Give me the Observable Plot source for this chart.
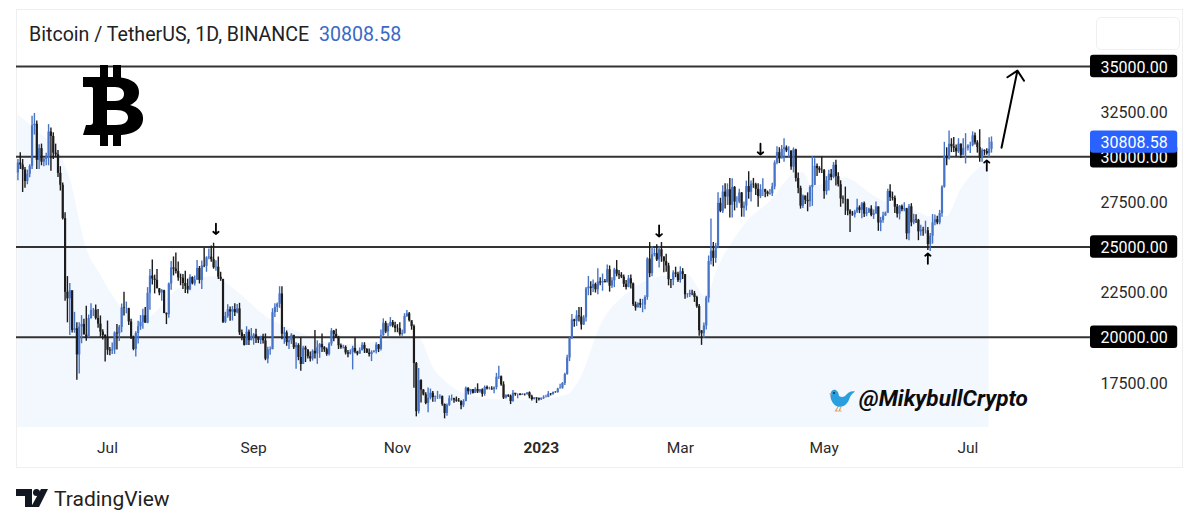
<!DOCTYPE html>
<html><head><meta charset="utf-8">
<script src="https://cdn.jsdelivr.net/npm/d3@7"></script>
<script src="https://cdn.jsdelivr.net/npm/@observablehq/plot@0.6"></script>
<style>
html,body{margin:0;padding:0;background:#fff;width:1200px;height:525px;overflow:hidden;font-family:Roboto,sans-serif}
#wrap{position:relative;width:1200px;height:525px}
#card{position:absolute;left:16px;top:9px;width:1167px;height:459px;border:1px solid #efefef;box-sizing:border-box}
#btn{position:absolute;left:1096px;top:17px;width:84px;height:33px;border:1px solid #f0f0f0;border-radius:5px;box-sizing:border-box}
#chart{position:absolute;left:0;top:0}
#title{position:absolute;left:29px;top:23px;font-size:19.6px;line-height:24px;color:#222;white-space:nowrap}
#title span{color:#3a6ac6;margin-left:5px}
#btc{position:absolute;left:83px;top:65px}
#tag{position:absolute;left:859px;top:385px;font:italic bold 22.6px/28px Roboto;color:#0c0c0c;white-space:nowrap}
#bird{position:absolute;left:829px;top:387px}
#tvlogo{position:absolute;left:16px;top:488px}
#tv{position:absolute;left:54px;top:486px;font-size:21px;line-height:26px;color:#222}
</style></head><body>
<div id="wrap">
<div id="card"></div><div id="btn"></div>
<div id="chart"></div>
<div id="title">Bitcoin / TetherUS, 1D, BINANCE <span>30808.58</span></div>
<svg id="btc" width="62" height="82" viewBox="0 0 62 82"><path fill-rule="evenodd" fill="#000" d="M17 0H25V12H30V0H38V12.500C49 14 56 19 56 27C56 34 52 38 47 40C55 42 61 47 60 55C59 64 51 69 38 70V81H30V70H25V81H17V70H0L3 60H7C9 60 10 59 10 57V24C10 22 9 22 7 22H0V12H17ZM24 22V36H32C38 36 41 33 41 29C41 25 38 22 32 22ZM24 45V60H33C41 60 45 57 45 52.500C45 48 41 45 33 45Z"/></svg>
<svg id="bird" width="26" height="25" viewBox="0 0 26 25"><path d="M26 4.500C22 3.500 18.500 6 16.500 8.500C14.500 10.500 12 10 10 9C9.500 5 7.500 2.500 5 2.800C2.500 3.200 1 6 1.500 9.500C2 15 6 20.500 12 19.800C17 19 20 14 21 10C22 8 24 6 26 4.500Z" fill="#2a9fe0"/><path d="M0 7L2.500 5.500L2.500 8Z" fill="#e8a060"/><path d="M9 20L6.500 24H9M12 20L10 24H12.500" stroke="#e8a060" stroke-width="1.200" fill="none"/><circle cx="5" cy="6" r="0.900" fill="#123"/></svg>
<svg id="tvlogo" width="34" height="20" viewBox="0 0 34 20"><path d="M0 1H16V19H9V8H0ZM25 1H32L23 19H15Z" fill="#131722"/><circle cx="20.500" cy="4.500" r="3.500" fill="#131722"/></svg>
<div id="tv">TradingView</div>
<div id="tag">@MikybullCrypto</div>
</div>
<script>
const startDay = new Date(Date.UTC(2022, 4, 24));
const openFirst = 29100;
const closes = [
29650,29540,29270,28630,29030,29470,31720,31800,
29800,30450,29700,29860,29910,31370,31125,30200,30110,29080,28420,26570,22490,22130,22580,20380,20470,19020,20560,20710,20120,19970,21040,21490,21500,21040,20730,20280,20100,19940,
19280,19240,19300,20230,20180,20540,21620,21590,21590,20850,19960,19320,20210,20580,20830,21190,20780,22430,23390,23220,23150,22680,22450,22580,21310,21250,22950,23840,23770,23640,23290,
23270,22980,22820,22620,23310,22960,23170,23810,23150,23950,23930,24400,24440,24300,23850,23880,23330,23200,20830,21140,21520,21400,21530,21360,21570,20240,20030,19550,20280,19810,20050,
20130,19950,19830,20000,19800,18790,19290,19320,21360,21650,21830,22400,20170,20240,19700,19800,20110,19420,19540,18880,18490,19400,19290,18920,18800,19220,19080,19410,19590,19420,
19310,19050,19620,20340,20160,19960,19530,19420,19440,19130,19060,19160,19380,19180,19070,19260,19550,19330,19120,19040,19160,19200,19570,19330,20090,20770,20290,20600,20820,20630,20490,
20480,20150,20210,21150,21300,20920,20590,18540,15880,17600,17070,16810,16330,16620,16900,16660,16690,16700,16710,16280,15780,16230,16600,16600,16520,16460,16430,16210,16440,17170,
16980,17090,16890,17110,16970,17090,16840,17220,17130,17130,17090,17210,17780,17810,17360,16630,16780,16740,16440,16900,16820,16830,16780,16840,16830,16920,16700,16550,16630,16600,16540,
16620,16670,16670,16850,16830,16950,16940,17130,17180,17440,17940,18850,19930,20960,20880,21180,21130,20680,21080,22680,22780,22710,22920,22630,23060,23010,23080,23030,23740,22830,23130,
23730,23490,23430,23330,22930,22760,23240,22960,21800,21630,21860,21780,21780,22200,24330,23520,24570,24630,24280,24840,24450,24190,23950,23190,23160,23560,23490,23140,
23630,23470,22350,22350,22430,22410,22200,21700,20360,20190,20630,22160,24200,24770,24370,25050,27420,26970,28040,27770,28170,27310,28300,27490,27490,27990,27140,27270,28350,28030,28480,
28450,28200,27790,28170,28170,28030,27920,27950,28330,29650,30230,29880,30400,30490,30320,30320,29430,30380,28800,28250,27260,27820,27590,27510,28300,28420,29470,29340,29250,29230,
28070,28670,29030,28850,29530,28900,28450,27660,27630,27620,26990,26810,26780,26930,27170,27030,27400,26820,26890,27100,26750,26850,27220,26330,26470,26720,26870,28080,27740,27700,27210,
26820,27250,27070,27120,25730,27230,26340,26500,26480,25840,25930,25900,25900,25130,25590,26340,26510,26340,26850,28310,30030,29890,30690,30550,30470,30270,30700,30080,30450,30470,
30590,30620,31160,30770,30510,29900,30350,30290,30170,30410,30808.58];
const highs = [
29850,30220,29850,29400,29260,29550,32250,32400,
31980,30660,30700,29960,30190,31780,31590,31330,30700,30350,29450,28540,26900,23360,22980,22070,21380,20800,20800,21200,21000,21720,21230,21860,21600,21780,21540,21180,20410,20140,
20900,19430,19680,20300,20700,20650,21840,22500,21950,21600,21000,20060,20300,20880,21200,21550,21650,22750,23750,24280,23440,23750,22700,22650,22600,21350,23000,24200,24450,24670,24170,
23500,23470,23650,23220,23460,23350,23400,24250,23920,24220,24920,24460,24890,25050,25210,24240,24450,23600,23220,21380,21800,21680,21700,21860,21820,21880,20400,20150,20580,20400,20490,
20200,20440,20000,20060,20160,20180,19450,19460,21580,21860,21900,22800,22800,20540,20350,19970,20200,20100,19690,19640,19960,19500,19500,19310,19180,19300,20380,19800,19650,20180,
19480,19400,19700,20480,20370,20450,20050,19620,19560,19520,19270,19300,19500,19950,19220,19400,19700,19700,19360,19350,19250,19260,19700,19600,20400,21020,20880,20750,21090,20930,20830,
20700,20800,20400,21300,21480,21370,20790,20680,18600,18270,17650,17100,16930,17190,17130,17000,16750,17000,16820,16750,16300,16300,16750,16800,16620,16690,16600,16480,16540,17250,
17200,17110,17100,17200,17420,17100,17140,17300,17300,17230,17260,17240,18000,18390,17850,17530,16800,16820,16800,17050,16880,16860,16880,16870,16860,16930,16970,16780,16660,16650,16640,
16630,16760,16780,16990,16880,16950,16980,17180,17400,17490,18000,19000,20000,21260,21000,21470,21650,21650,21200,22750,23370,23080,23170,23000,23800,23300,23500,23200,24000,23950,23300,
23820,24250,23700,23580,23450,23150,23420,23450,23000,21950,21910,22100,22100,22300,24400,25250,25020,24900,25120,25000,25250,24450,24600,24100,23200,23690,23880,23600,
23900,23800,23480,22420,22600,22600,22540,22270,21820,20370,20790,22270,24500,26550,25250,25200,28000,27700,28400,28500,28500,28800,28780,28350,27790,28200,28020,27500,28650,29170,28650,
28800,28530,28500,28450,28780,28200,28100,28180,28530,29770,30560,30500,30620,31000,30600,30550,30320,30490,30410,29100,28370,27880,27820,28000,28400,30020,29890,29600,29450,30000,
29300,28900,29250,29300,29680,29800,29120,28670,27830,28320,27650,27070,26970,27040,27650,27280,27470,27490,27180,27150,27280,27050,27500,27220,26640,26930,26940,28200,28450,28040,27830,
27350,27300,27320,27450,27140,27360,27400,26810,26780,26530,26200,26100,26430,26080,25750,26800,26770,26700,27030,28400,30800,30500,31430,31000,31060,30650,31000,30700,31000,31280,
30660,30800,31380,31320,30890,31500,30450,30380,30450,31050,31100];
const lows = [
28670,29300,28020,28250,28450,28830,29300,31200,
29300,29300,29500,29450,29500,29500,29200,29850,29950,28850,28100,26500,22000,20800,20100,20240,20220,17620,17960,19640,20350,19780,20000,21000,21150,20950,20500,20000,19850,18630,
19000,18980,19040,19050,19300,19760,20250,21180,21300,20650,19880,19250,18910,19620,20380,20450,20770,20750,21500,22900,22400,22800,22300,22000,21650,20700,21050,22600,23400,23500,23100,
22850,22650,22420,22400,22580,22900,22840,23150,22950,22650,23850,23600,24300,24150,23770,23650,23200,23100,20760,20760,21050,20890,20900,21150,21300,20100,19800,19520,19550,19540,19800,
19560,19650,19650,19600,19630,18700,18530,19000,19300,21100,21370,21600,19860,19610,19500,19320,19600,19320,18230,18700,18120,18500,18600,18800,18630,18680,18800,18500,18830,19150,
19160,18950,18960,19500,19750,19930,19320,19330,19350,19020,18860,19020,18190,19080,18970,19060,19240,19100,19100,18900,18650,19130,19070,19150,19240,20050,20200,20000,20570,20520,20250,
20250,20050,20050,20170,21100,20850,20390,17170,15590,15750,16360,16750,16260,15820,16530,16400,16400,16550,16560,16180,15480,15630,16170,16460,16350,16400,16400,15990,16100,16420,
16800,16800,16860,16880,16880,16900,16680,16730,17080,17080,17070,16870,17080,17660,17280,16550,16580,16660,16270,16400,16730,16590,16760,16780,16740,16790,16590,16470,16520,16330,16470,
16500,16550,16630,16650,16750,16780,16900,16900,17160,17120,17320,17890,18650,19870,20550,20600,20850,20400,20650,20850,22300,22300,22480,22450,22350,22850,22550,23000,23000,22500,22700,
22750,23350,23200,23250,22750,22620,22740,22680,21700,21450,21620,21600,21360,21530,22050,23300,23350,24450,24200,23840,24150,23580,23600,22850,22700,22850,23300,23030,
23000,23200,22100,22170,22200,22300,21930,21600,20050,19550,19950,20400,21900,24000,23900,24100,24900,26900,26850,27100,27300,26600,26600,27000,27150,27400,26650,26650,27000,27650,27500,
28250,27850,27200,27680,27800,27730,27780,27870,27800,28170,29550,29620,29880,29700,30230,29900,29250,29100,28600,27950,27100,27130,27350,26950,27200,27250,28400,28900,29080,29070,
27650,27870,28100,28670,28780,28380,28330,27200,27380,26750,26730,25810,26700,26600,26860,26850,26570,26630,26680,26850,26670,26530,26800,25870,25850,26320,26700,26850,27520,27550,26850,
26600,26500,26950,26950,25400,25350,26120,26230,26300,25350,25600,25600,25720,24800,24750,25160,26180,26230,26230,26650,28260,29500,29820,30230,30240,29980,30180,29900,30050,29600,
30320,30180,30550,30650,30200,29700,29700,30050,30080,29950,30200];

const shadeDates = ["2022-05-24","2022-06-03","2022-06-11","2022-06-15","2022-06-22","2022-06-28","2022-07-06","2022-07-15","2022-07-19","2022-07-29","2022-08-15","2022-08-24","2022-09-07","2022-09-21","2022-10-08","2022-10-25","2022-11-04","2022-11-09","2022-11-11","2022-11-16","2022-11-22","2022-12-01","2022-12-15","2022-12-29","2023-01-12","2023-01-18","2023-01-26","2023-02-07","2023-02-21","2023-03-04","2023-03-12","2023-03-17","2023-03-23","2023-03-29","2023-04-09","2023-04-18","2023-04-22","2023-04-26","2023-05-09","2023-05-25","2023-06-08","2023-06-15","2023-06-22","2023-06-28","2023-07-05","2023-07-10"];
const shadeValues = [32330,31220,30110,28840,24955,23460,21800,20850,21075,22460,23350,22630,21075,20240,19580,19750,20020,20020,19860,18360,17470,16800,16530,16530,16800,17800,20580,22460,23350,23460,22240,23850,25230,26340,27620,29000,29110,28340,28840,27620,27060,26670,26670,28170,29280,29670];

const levels = [35000, 30000, 25000, 20000];
const lastPrice = 30808.58;
const priceTicks = [17500,20000,22500,25000,27500,30000,32500,35000];
const monthTicks = ["2022-07-01","2022-09-01","2022-11-01","2023-03-01","2023-05-01","2023-07-01"];
const monthNames = ["Jul","Sep","Nov","Mar","May","Jul"];
const yearTick = "2023-01-01";
const yearName = "2023";
const noteFrom = [["2022-08-16",26300],["2023-02-20",26200],["2023-04-04",30720],["2023-06-14",24070],["2023-07-09",29230]];
const noteTo   = [["2022-08-16",25720],["2023-02-20",25580],["2023-04-04",30120],["2023-06-14",24640],["2023-07-09",29800]];
const targetFrom = ["2023-07-15T06:00Z",30500];
const targetTo   = ["2023-07-22T00:00Z",34770];
const labelSpan = ["2023-08-22T00:00Z","2023-09-28T00:00Z"];
const labelHalf = 620;

const bars = closes.map((c,i)=>({date:d3.utcDay.offset(startDay,i),open:i?closes[i-1]:openFirst,close:c,high:highs[i],low:lows[i]}));
const shade = shadeDates.map((d,i)=>({date:new Date(d),v:shadeValues[i]}));
const barColor = d => d.close>=d.open ? "#4874c8" : "#1c1c1c";
const fmt = d => d3.format(".2f")(d);
const boxDate = new Date("2023-09-09T12:00Z");

document.getElementById("chart").append(Plot.plot({
  width:1200,height:525,marginLeft:16,marginRight:110,marginTop:66,marginBottom:98,
  style:{background:"transparent",fontFamily:"Roboto,sans-serif",fontSize:"15px",overflow:"visible"},
  x:{type:"utc",domain:[new Date("2022-05-23T09:30Z"),new Date("2023-08-22T00:00Z")]},
  y:{domain:[15000,35000]},
  marks:[
    Plot.areaY(shade,{x:"date",y1:15000,y2:"v",fill:"#f3f7fe",curve:"monotone-x"}),
    Plot.ruleY(levels,{stroke:"#333",strokeWidth:1.8}),
    Plot.ruleX(bars,{x:"date",y1:"low",y2:"high",stroke:barColor,strokeWidth:1.4}),
    Plot.ruleX(bars,{x:"date",y1:"open",y2:"close",stroke:barColor,strokeWidth:2.2}),
    Plot.axisX({ticks:monthTicks.map(d=>new Date(d)),tickFormat:(d,i)=>monthNames[i],tickSize:0,tickPadding:14,fill:"#2a2a2a",fontSize:15.5,label:null}),
    Plot.axisX({ticks:[new Date(yearTick)],tickFormat:()=>yearName,tickSize:0,tickPadding:14,fill:"#2a2a2a",fontSize:15.5,fontWeight:"bold",label:null}),
    Plot.axisY({anchor:"right",ticks:priceTicks,tickFormat:fmt,tickSize:0,tickPadding:10,dy:1,fill:"#2a2a2a",fontSize:16,label:null}),
    Plot.rect(levels,{x1:()=>new Date(labelSpan[0]),x2:()=>new Date(labelSpan[1]),y1:d=>d-labelHalf,y2:d=>d+labelHalf,fill:"#000",rx:3}),
    Plot.text(levels,{x:()=>boxDate,y:d=>d,dy:1,text:fmt,fill:"#fff",fontSize:16}),
    Plot.rect([lastPrice],{x1:()=>new Date(labelSpan[0]),x2:()=>new Date(labelSpan[1]),y1:d=>d-labelHalf,y2:d=>d+labelHalf,fill:"#2962ff",rx:3}),
    Plot.text([lastPrice],{x:()=>boxDate,y:d=>d,dy:1,text:fmt,fill:"#fff",fontSize:16}),
    Plot.arrow(noteFrom.map((f,i)=>({f,t:noteTo[i]})),{x1:d=>new Date(d.f[0]),y1:d=>d.f[1],x2:d=>new Date(d.t[0]),y2:d=>d.t[1],stroke:"#000",strokeWidth:1.8,headLength:6,headAngle:100}),
    Plot.arrow([{}],{x1:()=>new Date(targetFrom[0]),y1:()=>targetFrom[1],x2:()=>new Date(targetTo[0]),y2:()=>targetTo[1],stroke:"#000",strokeWidth:2,headLength:9,headAngle:90,bend:0})
  ]
}));
</script>
</body></html>
